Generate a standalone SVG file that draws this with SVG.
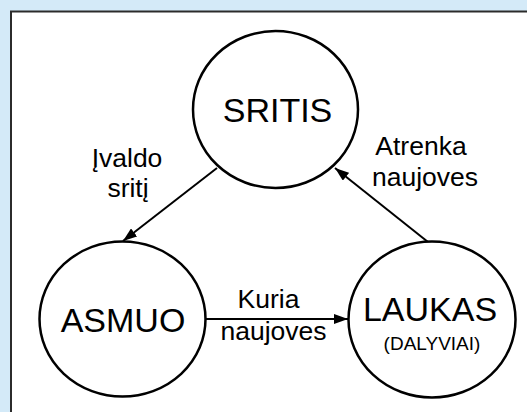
<svg xmlns="http://www.w3.org/2000/svg" width="527" height="412" viewBox="0 0 527 412">
<defs>
<style>
.node{fill:#fff;stroke:#000;stroke-width:2.5}
.t{font-family:"Liberation Sans",Arial,sans-serif;fill:#000;text-anchor:middle}
.big{font-size:34px}
.lab{font-size:26.5px}
.small{font-size:19px}
.edge{stroke:#000;stroke-width:2;fill:none;marker-end:url(#ah)}
</style>
<marker id="ah" viewBox="0 0 14 10" refX="14" refY="5" markerWidth="14" markerHeight="10" markerUnits="userSpaceOnUse" orient="auto">
<path d="M0,0 L14,5 L0,10 Z" fill="#000"/>
</marker>
</defs>
<rect x="0" y="0" width="527" height="412" fill="#D4EAF8"/>
<rect x="11" y="11.5" width="530" height="420" fill="#fff" stroke="#2b2b2b" stroke-width="2"/>
<g id="connectors">
<line class="edge" x1="217" y1="168" x2="123" y2="241"/>
<line class="edge" x1="428" y1="242" x2="335" y2="168"/>
<line class="edge" x1="206" y1="319" x2="348" y2="319"/>
</g>
<g id="node-sritis">
<ellipse class="node" cx="275.5" cy="109.5" rx="82.5" ry="78.5"/>
<text class="t big" x="277.5" y="121.5">SRITIS</text>
</g>
<g id="node-asmuo">
<ellipse class="node" cx="122.5" cy="319" rx="83" ry="77.5"/>
<text class="t big" x="123" y="331.5">ASMUO</text>
</g>
<g id="node-laukas">
<ellipse class="node" cx="432" cy="319.5" rx="83.5" ry="78"/>
<text class="t big" x="430" y="321">LAUKAS</text>
<text class="t small" x="432" y="349.5">(DALYVIAI)</text>
</g>
<g id="labels">
<text class="t lab" x="127" y="166.5">Įvaldo</text>
<text class="t lab" x="128" y="197">sritį</text>
<text class="t lab" x="421" y="155">Atrenka</text>
<text class="t lab" x="425" y="185.5">naujoves</text>
<text class="t lab" x="268.5" y="308">Kuria</text>
<text class="t lab" x="273.5" y="340">naujoves</text>
</g>
</svg>
